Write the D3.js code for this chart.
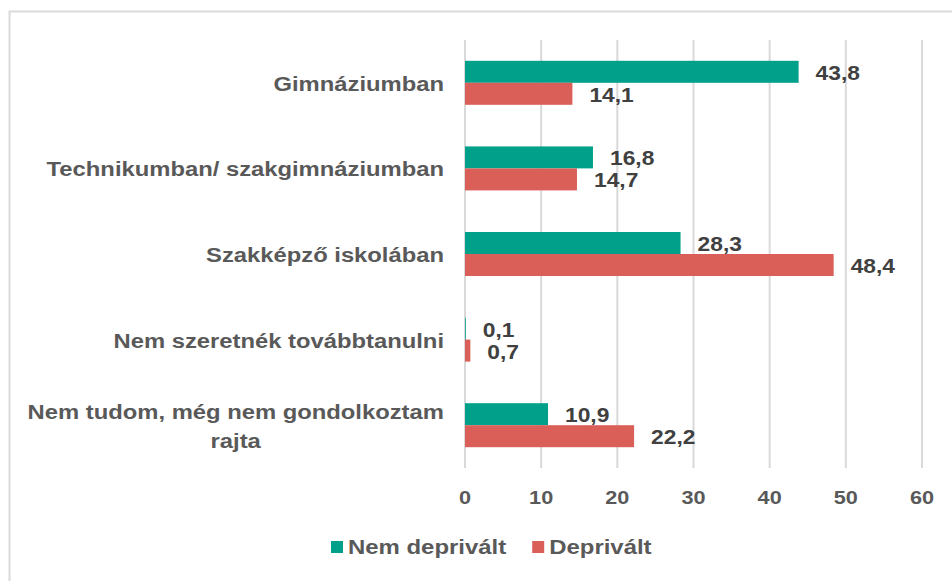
<!DOCTYPE html>
<html>
<head>
<meta charset="utf-8">
<script src="https://cdn.jsdelivr.net/npm/d3@7/dist/d3.min.js"></script>
<style>
  body { margin: 0; background: #fff; }
  text { font-family: "Liberation Sans", Arial, sans-serif; font-weight: bold; }
</style>
</head>
<body>
<div id="chart"></div>
<script>
// data
var categories = ["Gimnáziumban", "Technikumban/ szakgimnáziumban", "Szakképző iskolában",
                  "Nem szeretnék továbbtanulni", "Nem tudom, még nem gondolkoztam rajta"];
var seriesNames = ["Nem deprivált", "Deprivált"];
var nemDeprivalt = [43.8, 16.8, 28.3, 0.1, 10.9];
var deprivalt = [14.1, 14.7, 48.4, 0.7, 22.2];
var tickValues = [0, 10, 20, 30, 40, 50, 60];

var colors = ["#00a08a", "#d95f58"];
var stretch = 1.14;    // the source font is drawn a bit wide
var catStretch = 1.19;

var W = 952, H = 581;
var margin = {top: 40, right: 30, bottom: 113, left: 465},
    width = 922 - margin.left,
    height = 468 - margin.top;

var root = d3.select("#chart").append("svg")
    .attr("width", W)
    .attr("height", H);

// frame
root.append("rect")
    .attr("x", 9.5).attr("y", 11.5)
    .attr("width", W + 20).attr("height", H + 20)
    .attr("fill", "none")
    .attr("stroke", "#d9d9d9")
    .attr("stroke-width", 2);

var svg = root.append("g")
    .attr("transform", "translate(" + margin.left + "," + margin.top + ")");

var x = d3.scaleLinear().domain([0, 60]).range([0, width]);
var y = d3.scaleBand().domain(categories).range([0, height])
    .paddingInner(0.486).paddingOuter(0.243);
var ySub = d3.scaleBand().domain(seriesNames).range([0, y.bandwidth()]);

function label(g, px, py, str, anchor, size, color, sx) {
    return g.append("text")
        .attr("transform", "translate(" + px + "," + py + ") scale(" + (sx || stretch) + ",1)")
        .attr("text-anchor", anchor)
        .attr("dy", "0.35em")
        .style("font-size", size + "px")
        .attr("fill", color)
        .text(str);
}

// grid
svg.selectAll(".grid")
    .data(tickValues)
    .enter().append("line")
    .attr("x1", d => x(d)).attr("x2", d => x(d))
    .attr("y1", 0).attr("y2", height)
    .attr("stroke", "#d9d9d9")
    .attr("stroke-width", 2);

// tick labels
tickValues.forEach(function(t) {
    label(svg, x(t), height + 29, t, "middle", 19, "#595959");
});

var series = [nemDeprivalt, deprivalt];

series.forEach(function(vals, si) {
    svg.selectAll(".bar" + si)
        .data(categories)
        .enter().append("rect")
        .attr("x", x(0))
        .attr("y", d => y(d) + ySub(seriesNames[si]))
        .attr("width", (d, i) => x(vals[i]) - x(0))
        .attr("height", ySub.bandwidth())
        .attr("fill", colors[si]);

    categories.forEach(function(c, i) {
        label(svg, x(vals[i]) + 17, y(c) + ySub(seriesNames[si]) + ySub.bandwidth() / 2 + 1,
              vals[i].toFixed(1).replace(".", ","), "start", 20, "#404040");
    });
});

// category labels, wrapped and centred like the original
var maxW = 420;
categories.forEach(function(c) {
    var words = c.split(" "), lines = [], cur = "";
    var probe = svg.append("text").style("font-size", "20px");
    var widths = [];
    function w(s) { probe.text(s); return probe.node().getComputedTextLength() * catStretch; }
    words.forEach(function(wd) {
        var test = cur ? cur + " " + wd : wd;
        if (w(test) > maxW && cur) {
            lines.push(cur);
            cur = wd;
        } else {
            cur = test;
        }
    });
    lines.push(cur);
    var widest = d3.max(lines, w);
    probe.remove();
    var lh = 29;
    var cy = y(c) + y.bandwidth() / 2 + 1 - (lines.length - 1) * lh / 2;
    lines.forEach(function(l, k) {
        if (lines.length > 1)
            label(svg, -21 - widest / 2, cy + k * lh, l, "middle", 20, "#595959", catStretch);
        else
            label(svg, -21, cy, l, "end", 20, "#595959", catStretch);
    });
});

// legend
var legend = root.append("g");
var lx = 331;
seriesNames.forEach(function(s, i) {
    legend.append("rect")
        .attr("x", lx).attr("y", 541)
        .attr("width", 12).attr("height", 12)
        .attr("fill", colors[i]);
    var t = label(legend, lx + 17, 547, s, "start", 21, "#595959");
    lx += 17 + t.node().getComputedTextLength() * stretch + 26;
});
</script>
</body>
</html>
